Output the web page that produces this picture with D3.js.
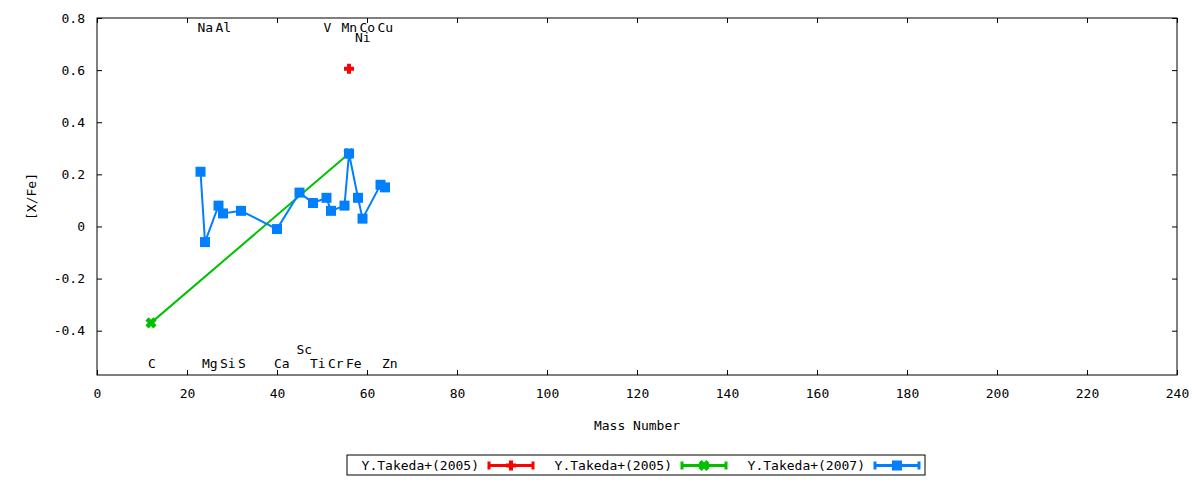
<!DOCTYPE html>
<html>
<head>
<meta charset="utf-8">
<script src="https://cdn.jsdelivr.net/npm/d3@7"></script>
<style>
  body { margin: 0; background: #fff; }
  svg text { font-family: "DejaVu Sans Mono", monospace; font-size: 13px; fill: #000; }
</style>
</head>
<body>
<svg id="chart"></svg>
<script>
// Y.Takeda+(2005), single point
const takeda05aMass = [56];
const takeda05aXFe = [0.605];

// Y.Takeda+(2005), C and Fe
const takeda05bMass = [12, 56];
const takeda05bXFe = [-0.37, 0.28];

// Y.Takeda+(2007)
const takeda07Mass = [23, 24, 27, 28, 32, 40, 45, 48, 51, 52, 55, 56, 58, 59, 63, 64];
const takeda07XFe = [0.21, -0.06, 0.08, 0.05, 0.06, -0.01, 0.13, 0.09, 0.11, 0.06, 0.08, 0.28, 0.11, 0.03, 0.16, 0.15];

// element labels (mass, [X/Fe] level where the label sits)
const elementNames = ["Na", "Al", "V", "Mn", "Co", "Cu", "Ni", "C", "Mg", "Si", "S", "Ca", "Sc", "Ti", "Cr", "Fe", "Zn"];
const elementMass = [23, 27, 51, 55, 59, 63, 58, 12, 24, 28, 32, 40, 45, 48, 52, 56, 64];
const elementLevel = [0.765, 0.765, 0.765, 0.765, 0.765, 0.765, 0.725, -0.525, -0.525, -0.525, -0.525, -0.525, -0.47, -0.525, -0.525, -0.525, -0.525];

const xTicks = [0, 20, 40, 60, 80, 100, 120, 140, 160, 180, 200, 220, 240];
const yTicks = [-0.4, -0.2, 0, 0.2, 0.4, 0.6, 0.8];
const seriesNames = ["Y.Takeda+(2005)", "Y.Takeda+(2005)", "Y.Takeda+(2007)"];

class AbundancePlot {
    margin = { top: 18, right: 23, bottom: 105, left: 97 }

    constructor(svg, width = 1200, height = 480) {
        this.svg = d3.select(svg);
        this.width = width - this.margin.left - this.margin.right;
        this.height = height - this.margin.top - this.margin.bottom;
    }

    initialize() {
        this.svg.attr("width", 1200).attr("height", 480);
        this.container = this.svg.append("g")
            .attr("transform", `translate(${this.margin.left}, ${this.margin.top})`);

        this.xScale = d3.scaleLinear().domain([0, 240]).range([0, this.width]);
        this.yScale = d3.scaleLinear().domain([-0.57, 0.8]).range([this.height, 0]);

        this.series = [
            { name: seriesNames[0], color: "#ff0000", marker: "plus",
              data: takeda05aMass.map((m, i) => ({ x: m, y: takeda05aXFe[i] })) },
            { name: seriesNames[1], color: "#00c000", marker: "cross",
              data: takeda05bMass.map((m, i) => ({ x: m, y: takeda05bXFe[i] })) },
            { name: seriesNames[2], color: "#0080ff", marker: "square",
              data: takeda07Mass.map((m, i) => ({ x: m, y: takeda07XFe[i] })) }
        ];
    }

    marker(g, type, color) {
        if (type === "plus") {
            g.append("path")
                .attr("d", "M-5,0H5M0,-5V5")
                .attr("stroke", color).attr("stroke-width", 4).attr("fill", "none");
        } else if (type === "cross") {
            g.append("path")
                .attr("d", "M-4,-4L4,4M-4,4L4,-4")
                .attr("stroke", color).attr("stroke-width", 4.5).attr("fill", "none");
        } else {
            g.append("rect")
                .attr("x", -5).attr("y", -5).attr("width", 10).attr("height", 10)
                .attr("fill", color);
        }
    }

    update() {
        const x = this.xScale, y = this.yScale;

        // axes, ticks pointing inward on all four sides
        this.container.append("g")
            .attr("transform", `translate(0, ${this.height})`)
            .call(d3.axisBottom(x).tickValues(xTicks).tickSize(-5).tickPadding(14));
        this.container.append("g")
            .call(d3.axisTop(x).tickValues(xTicks).tickSize(-5).tickFormat(""));
        this.container.append("g")
            .call(d3.axisLeft(y).tickValues(yTicks).tickSize(-5).tickPadding(12).tickFormat(d => String(d)));
        this.container.append("g")
            .attr("transform", `translate(${this.width}, 0)`)
            .call(d3.axisRight(y).tickValues(yTicks).tickSize(-5).tickFormat(""));

        this.container.selectAll(".domain").remove();
        this.container.selectAll(".tick line").attr("stroke", "#000");
        this.container.selectAll(".tick text")
            .style("font-family", "DejaVu Sans Mono").style("font-size", "13px");

        this.container.append("rect")
            .attr("width", this.width).attr("height", this.height)
            .attr("fill", "none").attr("stroke", "#000").attr("stroke-width", 1);

        // axis titles
        this.svg.append("text")
            .attr("transform", `translate(36, ${this.margin.top + this.height / 2}) rotate(-90)`)
            .attr("text-anchor", "middle")
            .text("[X/Fe]");
        this.svg.append("text")
            .attr("x", this.margin.left + this.width / 2)
            .attr("y", 430)
            .attr("text-anchor", "middle")
            .text("Mass Number");

        // element labels
        this.container.selectAll(".element")
            .data(elementNames)
            .join("text")
            .attr("class", "element")
            .attr("x", (d, i) => x(elementMass[i]))
            .attr("y", (d, i) => y(elementLevel[i]))
            .attr("dx", -3)
            .attr("dy", "0.36em")
            .text(d => d);

        // series
        const line = d3.line().x(d => x(d.x)).y(d => y(d.y));
        this.series.forEach(s => {
            const g = this.container.append("g");
            if (s.data.length > 1) {
                g.append("path")
                    .datum(s.data)
                    .attr("d", line)
                    .attr("fill", "none")
                    .attr("stroke", s.color)
                    .attr("stroke-width", 2);
            }
            s.data.forEach(d => {
                const m = g.append("g").attr("transform", `translate(${x(d.x)}, ${y(d.y)})`);
                this.marker(m, s.marker, s.color);
            });
        });

        this.updateLegend();
    }

    updateLegend() {
        const legend = this.svg.append("g").attr("transform", "translate(347, 455)");
        legend.append("rect")
            .attr("width", 578).attr("height", 20)
            .attr("fill", "#fff").attr("stroke", "#000");

        const entry = legend.selectAll(".legend")
            .data(this.series)
            .join("g")
            .attr("class", "legend")
            .attr("transform", (d, i) => `translate(${i * 193}, 0)`);

        entry.append("text")
            .attr("x", 132).attr("y", 10.5)
            .attr("dy", "0.36em")
            .attr("text-anchor", "end")
            .text(d => d.name);

        entry.append("path")
            .attr("d", "M142,10.5H186M142,6.5V14.5M186,6.5V14.5")
            .attr("stroke", d => d.color)
            .attr("stroke-width", 3)
            .attr("fill", "none");

        entry.each((d, i, nodes) => {
            const m = d3.select(nodes[i]).append("g").attr("transform", "translate(164, 10.5)");
            this.marker(m, d.marker, d.color);
        });
    }
}

const plot = new AbundancePlot(document.getElementById("chart"));
plot.initialize();
plot.update();
</script>
</body>
</html>
